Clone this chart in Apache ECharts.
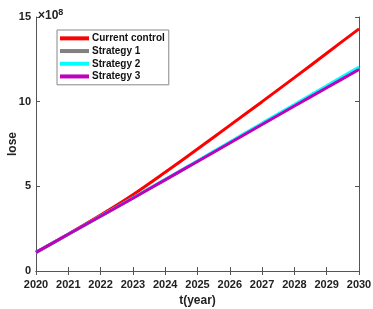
<!DOCTYPE html>
<html>
<head>
<meta charset="utf-8">
<script src="https://cdn.jsdelivr.net/npm/echarts@6/dist/echarts.min.js"></script>
<style>
  html, body { margin: 0; padding: 0; background: #fff; }
  #chart { width: 373px; height: 309px; }
</style>
</head>
<body>
<div id="chart"></div>
<script>
// years and losses (unit: 10^8)
const years = [2020, 2021, 2022, 2023, 2024, 2025, 2026, 2027, 2028, 2029, 2030]
const currentControl = [1.1, 2.18, 3.3, 4.5, 5.83, 7.2, 8.6, 10.0, 11.42, 12.86, 14.3]
const strategy1 = [1.1, 2.17, 3.23, 4.31, 5.39, 6.48, 7.58, 8.68, 9.77, 10.86, 11.95]
const strategy2 = [1.1, 2.17, 3.24, 4.32, 5.41, 6.51, 7.62, 8.73, 9.83, 10.94, 12.05]
const strategy3 = [1.1, 2.17, 3.23, 4.3, 5.38, 6.47, 7.56, 8.65, 9.74, 10.82, 11.9]
const yTicks = [0, 5, 10, 15]

const chart = echarts.init(document.getElementById('chart'))

function pairs(vals) {
  return years.map((y, i) => [y, vals[i]])
}

const fontFamily = 'Liberation Sans, Arial, sans-serif'
const labelFont = { color: '#222', fontSize: 11, fontWeight: 'bold', fontFamily: fontFamily }
const axisLine = { show: true, lineStyle: { color: '#555', width: 1 } }
const axisTick = { show: true, inside: true, length: 4, lineStyle: { color: '#555' } }

function lineSeries(name, vals, color) {
  return {
    name: name,
    type: 'line',
    data: pairs(vals),
    smooth: 0.3,
    showSymbol: false,
    symbol: 'none',
    lineStyle: { color: color, width: 3 },
    itemStyle: { color: color },
    animation: false
  }
}

const option = {
  animation: false,
  title: {
    text: '{a|×10}{b|8}',
    left: 33,
    top: 3,
    textStyle: {
      rich: {
        a: { color: '#222', fontSize: 12, fontFamily: fontFamily, verticalAlign: 'bottom', lineHeight: 14 },
        b: { color: '#222', fontSize: 9, fontFamily: fontFamily, verticalAlign: 'top', lineHeight: 8, padding: [0, 0, 6, 0] }
      }
    }
  },
  grid: { left: 36, right: 14, top: 17, bottom: 38, outerBoundsMode: 'none', containLabel: false },
  legend: {
    left: 57,
    top: 30,
    orient: 'vertical',
    backgroundColor: '#fff',
    borderColor: '#888',
    borderWidth: 1,
    borderRadius: 0,
    padding: [2, 4, 2, 3],
    itemGap: 0,
    itemWidth: 29,
    itemHeight: 4,
    icon: 'rect',
    textStyle: { color: '#111', fontSize: 10, fontWeight: 'bold', lineHeight: 12.7, padding: [0, 0, 0, -2], fontFamily: fontFamily },
    data: ['Current control', 'Strategy 1', 'Strategy 2', 'Strategy 3']
  },
  xAxis: [
    {
      type: 'value',
      min: 2020,
      max: 2030,
      interval: 1,
      name: 't(year)',
      nameLocation: 'middle',
      nameGap: 21,
      nameTextStyle: { color: '#222', fontSize: 12, fontWeight: 'bold', fontFamily: fontFamily },
      axisLine: axisLine,
      axisTick: axisTick,
      splitLine: { show: false },
      axisLabel: Object.assign({ margin: 8, formatter: v => String(v) }, labelFont)
    },
    {
      type: 'value',
      position: 'top',
      min: 2020,
      max: 2030,
      interval: 1,
      axisLine: axisLine,
      axisTick: axisTick,
      splitLine: { show: false },
      axisLabel: { show: false }
    }
  ],
  yAxis: [
    {
      type: 'value',
      min: yTicks[0],
      max: yTicks[yTicks.length - 1],
      interval: 5,
      name: 'lose',
      nameLocation: 'middle',
      nameGap: 17,
      nameMoveOverlap: false,
      nameRotate: 90,
      nameTextStyle: { color: '#222', fontSize: 12, fontWeight: 'bold', fontFamily: fontFamily },
      axisLine: axisLine,
      axisTick: axisTick,
      splitLine: { show: false },
      axisLabel: Object.assign({ margin: 5 }, labelFont)
    },
    {
      type: 'value',
      position: 'right',
      min: yTicks[0],
      max: yTicks[yTicks.length - 1],
      interval: 5,
      axisLine: axisLine,
      axisTick: axisTick,
      splitLine: { show: false },
      axisLabel: { show: false }
    }
  ],
  series: [
    lineSeries('Current control', currentControl, '#ff0000'),
    lineSeries('Strategy 1', strategy1, '#808080'),
    lineSeries('Strategy 2', strategy2, '#00ffff'),
    lineSeries('Strategy 3', strategy3, '#bf00bf')
  ]
}

chart.setOption(option)
</script>
</body>
</html>
